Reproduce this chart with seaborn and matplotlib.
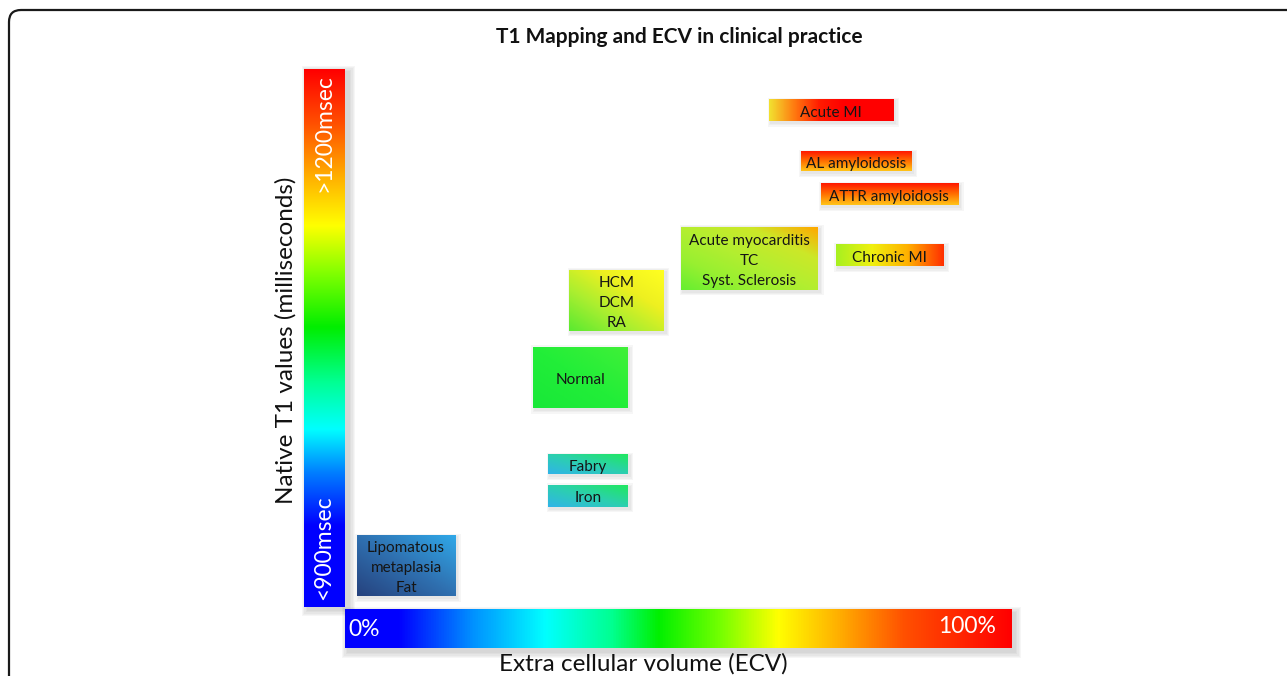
import numpy as np
import matplotlib
matplotlib.use("Agg")
import matplotlib.pyplot as plt
import seaborn as sns
from matplotlib.colors import LinearSegmentedColormap
from matplotlib.patches import FancyBboxPatch, Rectangle
from matplotlib.transforms import IdentityTransform, offset_copy

# ---------------- data ----------------
title = "T1 Mapping and ECV in clinical practice"
x_label = "Extra cellular volume (ECV)"
y_label = "Native T1 values (milliseconds)"
ecv_tick_labels = ["0%", "100%"]
t1_tick_labels = ["<900msec", ">1200msec"]
ecv_range = [0, 100]
t1_range = [900, 1200]

conditions = ["Acute MI", "AL amyloidosis", "ATTR amyloidosis",
              "Acute myocarditis\nTC\nSyst. Sclerosis", "Chronic MI",
              "HCM\nDCM\nRA", "Normal", "Fabry", "Iron",
              "Lipomatous\nmetaplasia\nFat"]
ecv_low = [63.6, 68.3, 71.3, 50.4, 73.6, 33.6, 28.2, 30.5, 30.5, 1.8]
ecv_high = [82.2, 84.9, 91.9, 70.9, 89.7, 47.8, 42.3, 42.4, 42.4, 16.5]
t1_low = [1171, 1143, 1124, 1077, 1090, 1054, 1011, 974, 956, 906]
t1_high = [1183, 1154, 1136, 1112, 1102, 1088, 1045, 985, 968, 940]

# ---------------- styles ----------------
box_gradients = {
    "Acute MI": ("h", ["#f2e030", "#ff7a10", "#ff1c00", "#ff0000", "#ff0000", "#ff0000"]),
    "AL amyloidosis": ("v", ["#ffc418", "#ff7000", "#ff1800"]),
    "ATTR amyloidosis": ("v", ["#ffc418", "#ff7000", "#ff1800"]),
    "Acute myocarditis\nTC\nSyst. Sclerosis": ("d", ["#66ee30", "#98f030", "#b4ee30", "#cce828", "#ffa800"]),
    "Chronic MI": ("h", ["#a8f020", "#f0f010", "#ffb000", "#ff3000"]),
    "HCM\nDCM\nRA": ("d", ["#5aea30", "#a8ee30", "#eef020", "#ffff20"]),
    "Normal": ("d", ["#18e838", "#22ee38", "#40f038"]),
    "Fabry": ("d", ["#30b4e8", "#2ccfb0", "#20e860"]),
    "Iron": ("d", ["#30b4e8", "#2ccfb0", "#20e860"]),
    "Lipomatous\nmetaplasia\nFat": ("d", ["#26427e", "#2f70b0", "#30a8e8"]),
}

t1_bar_cmap = LinearSegmentedColormap.from_list("t1", [
    (0.0, "#0000ff"), (0.15, "#0000ff"), (0.25, "#0080ff"), (0.33, "#00ffff"),
    (0.42, "#00ff90"), (0.52, "#00ee00"), (0.62, "#80ff00"), (0.71, "#ffff00"),
    (0.80, "#ffb000"), (0.90, "#ff5000"), (1.0, "#ff0000")])
ecv_bar_cmap = LinearSegmentedColormap.from_list("ecv", [
    (0.0, "#0000ff"), (0.08, "#0000ff"), (0.19, "#0090ff"), (0.30, "#00ffff"),
    (0.40, "#00ff90"), (0.47, "#00f000"), (0.56, "#70ff00"), (0.65, "#ffff00"),
    (0.74, "#ffb000"), (0.84, "#ff5000"), (1.0, "#ff0000")])

sns.set_theme(style="white")
plt.rcParams["font.family"] = ["Lato", "DejaVu Sans"]

W, H = 1287, 676
fig = plt.figure(figsize=(W / 100, H / 100), dpi=100)
fig.patch.set_facecolor("white")
ax = fig.add_axes([0, 0, 1, 1])
ax.axis("off")

# pixel layout of the axis scales
PX0, PX1 = 345, 1012   # ECV 0 -> 100
PY0, PY1 = 607, 69     # T1 900 -> 1200
sx = (PX1 - PX0) / (ecv_range[1] - ecv_range[0])
sy = (PY0 - PY1) / (t1_range[1] - t1_range[0])
ax.set_xlim(ecv_range[0] - PX0 / sx, ecv_range[0] + (W - PX0) / sx)
ax.set_ylim(t1_range[0] - (H - PY0) / sy, t1_range[1] + PY1 / sy)
ax.set_aspect("auto")


def px2x(px):
    return ecv_range[0] + (px - PX0) / sx


def py2y(py):
    return t1_range[1] - (py - PY1) / sy


def soft_shadow(x0, x1, y0, y1, dx=3, dy=-3, steps=4, alpha=0.07, z=1):
    for k in range(steps):
        tr = offset_copy(ax.transData, fig=fig, x=dx, y=dy, units="dots")
        grow_x = (k + 1) * 1.2 / sx
        grow_y = (k + 1) * 1.2 / sy
        ax.add_patch(Rectangle((x0 - grow_x, y0 - grow_y), x1 - x0 + 2 * grow_x,
                               y1 - y0 + 2 * grow_y, transform=tr,
                               facecolor="#404040", edgecolor="none",
                               alpha=alpha, zorder=z))


# frame
fig.add_artist(FancyBboxPatch((9, -30), 1320, 696, boxstyle="round,pad=0,rounding_size=12",
                              transform=IdentityTransform(), facecolor="none",
                              edgecolor="#1a1a1a", linewidth=1.6))

# T1 colour bar (vertical)
vx0, vx1 = px2x(304), px2x(345)
soft_shadow(vx0, vx1, t1_range[0], t1_range[1], dx=4, dy=-3, steps=5, alpha=0.045)
grad_v = np.linspace(0, 1, 256).reshape(-1, 1)
ax.imshow(grad_v, cmap=t1_bar_cmap, extent=(vx0, vx1, t1_range[0], t1_range[1]),
          origin="lower", aspect="auto", interpolation="bilinear", zorder=3)

# ECV colour bar (horizontal)
hy1, hy0 = py2y(609), py2y(648)
soft_shadow(ecv_range[0], ecv_range[1], hy0, hy1, dx=3, dy=-4, steps=5, alpha=0.045)
grad_h = np.linspace(0, 1, 512).reshape(1, -1)
ax.imshow(grad_h, cmap=ecv_bar_cmap, extent=(ecv_range[0], ecv_range[1], hy0, hy1),
          origin="lower", aspect="auto", interpolation="bilinear", zorder=3)

# bar texts
ax.text(px2x(324), py2y(548), t1_tick_labels[0], rotation=90, color="white",
        fontsize=16.5, ha="center", va="center", zorder=5)
ax.text(px2x(324), py2y(133), t1_tick_labels[1], rotation=90, color="white",
        fontsize=16.5, ha="center", va="center", zorder=5)
ax.text(px2x(348), py2y(629), ecv_tick_labels[0], color="white",
        fontsize=16.5, ha="left", va="center", zorder=5)
ax.text(px2x(996), py2y(626), ecv_tick_labels[1], color="white",
        fontsize=16.5, ha="right", va="center", zorder=5)

# condition boxes
text_tr = offset_copy(ax.transData, fig=fig, x=0, y=-2.5, units="dots")
for name, xl, xh, yl, yh in zip(conditions, ecv_low, ecv_high, t1_low, t1_high):
    mode, cols = box_gradients[name]
    cmap = sns.blend_palette(cols, n_colors=256, as_cmap=True)
    u = np.linspace(0, 1, 120)
    v = np.linspace(0, 1, 60)
    U, V = np.meshgrid(u, v)
    if mode == "h":
        T = U
    elif mode == "v":
        T = V
    else:
        T = (U + V) / 2
    soft_shadow(xl, xh, yl, yh, dx=2, dy=-2, steps=3, alpha=0.045)
    ax.imshow(T, cmap=cmap, vmin=0, vmax=1, extent=(xl, xh, yl, yh), origin="lower",
              aspect="auto", interpolation="bilinear", zorder=4)
    ax.text((xl + xh) / 2, (yl + yh) / 2, name, ha="center", va="center",
            fontsize=11, color="#151515", linespacing=1.55, zorder=6,
            transform=text_tr)

# titles / labels
fig.text(679 / W, 1 - 37 / H, title, ha="center", va="center", fontsize=15,
         fontweight="bold", color="#111111")
fig.text(643 / W, 1 - 664 / H, x_label, ha="center", va="center", fontsize=17.5,
         color="#111111")
fig.text(286 / W, 1 - 340 / H, y_label, ha="center", va="center", fontsize=17.5,
         rotation=90, color="#111111")

fig.savefig("out.png", dpi=100, facecolor="white")
